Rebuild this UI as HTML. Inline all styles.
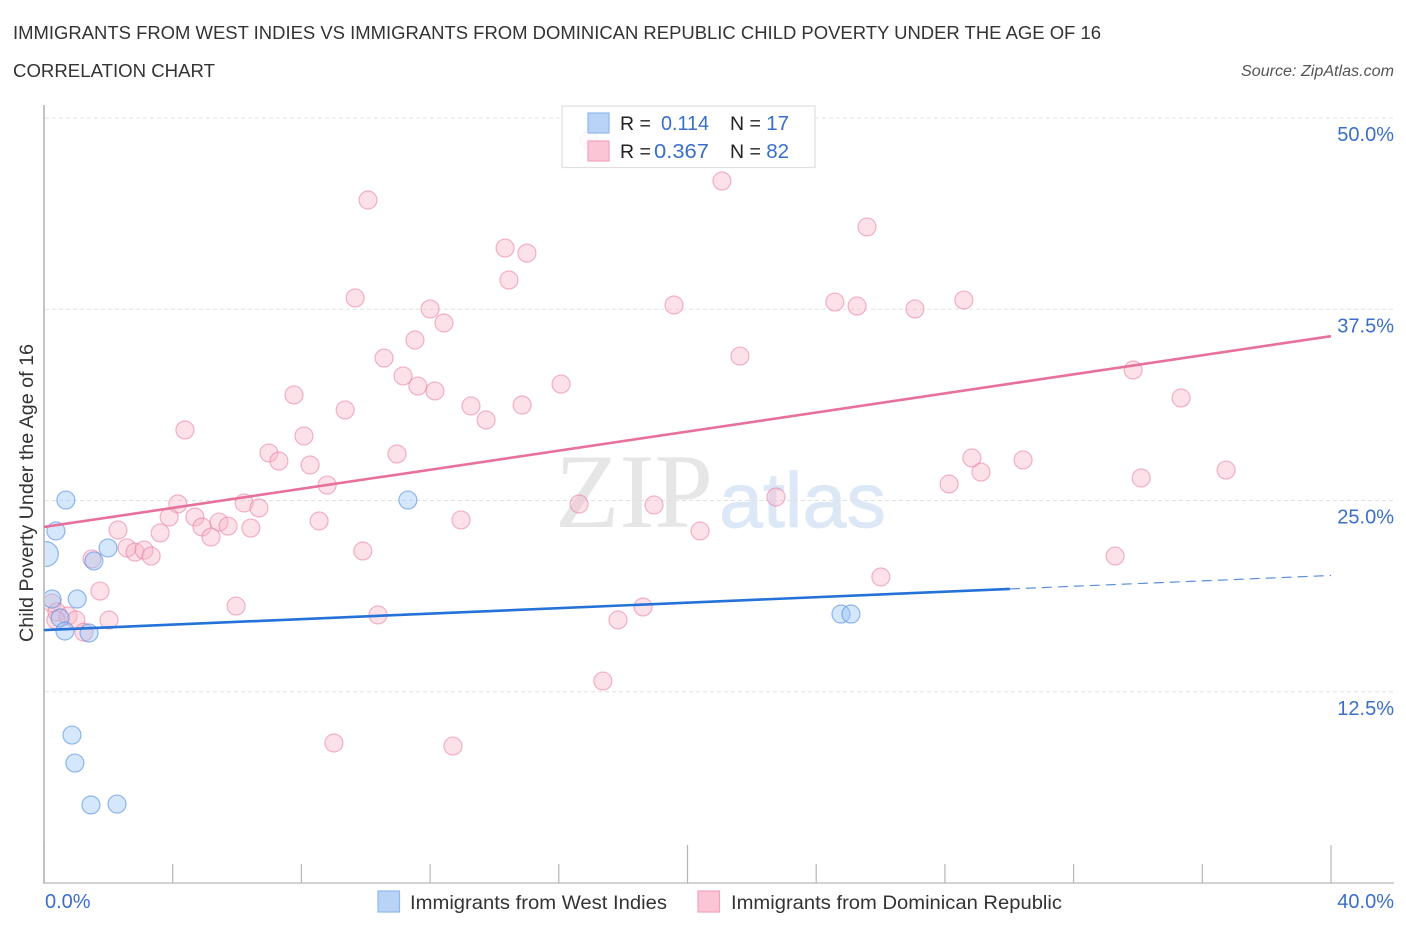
<!DOCTYPE html>
<html lang="en">
<head>
<meta charset="utf-8">
<title>Immigrants from West Indies vs Immigrants from Dominican Republic Child Poverty Correlation Chart</title>
<style>
html,body{margin:0;padding:0;background:#fff;width:1406px;height:930px;overflow:hidden}
svg{display:block}
text{font-family:"Liberation Sans",sans-serif}
</style>
</head>
<body>
<svg id="chart" xmlns="http://www.w3.org/2000/svg" width="1406" height="930" viewBox="0 0 1406 930">
  <defs>
    <clipPath id="plot-clip"><rect x="45" y="100" width="1349" height="783"/></clipPath>
  </defs>
  <text x="13" y="39" font-size="18.5" fill="#333" textLength="1088" lengthAdjust="spacingAndGlyphs">IMMIGRANTS FROM WEST INDIES VS IMMIGRANTS FROM DOMINICAN REPUBLIC CHILD POVERTY UNDER THE AGE OF 16</text>
  <text x="13" y="77" font-size="18.5" fill="#333" textLength="202" lengthAdjust="spacingAndGlyphs">CORRELATION CHART</text>
  <text x="1241" y="76" font-size="15.5" font-style="italic" fill="#555" textLength="153" lengthAdjust="spacingAndGlyphs">Source: ZipAtlas.com</text>
  <g>
    <text x="555" y="527" font-size="106" fill="#e6e6e6" textLength="158" lengthAdjust="spacingAndGlyphs" style="font-family:'Liberation Serif',serif">ZIP</text>
    <text x="719" y="527" font-size="78" fill="#dde8f7" stroke="#dde8f7" stroke-width="0.8" textLength="167" lengthAdjust="spacingAndGlyphs">atlas</text>
  </g>
  <g id="grid"></g>
  <g id="axes"></g>
  <g id="marks" clip-path="url(#plot-clip)"></g>
  <g id="trends"></g>
  <text transform="translate(33,642) rotate(-90)" font-size="19" fill="#333" textLength="298" lengthAdjust="spacingAndGlyphs">Child Poverty Under the Age of 16</text>
  <g>
    <rect x="562" y="106" width="253" height="61.5" fill="#fff" fill-opacity="0.85" stroke="#e0e0e0" stroke-width="1.2"/>
    <rect x="588" y="113" width="21" height="20" fill="#b9d3f7" stroke="#8fb8ee" stroke-width="1.2"/>
    <rect x="588" y="141" width="21" height="20" fill="#fcc5d6" stroke="#f3a3bd" stroke-width="1.2"/>
    <text x="620" y="130" font-size="19.5" fill="#222">R =</text>
    <text x="661" y="130" font-size="20.5" fill="#3a6fc9" textLength="48" lengthAdjust="spacingAndGlyphs">0.114</text>
    <text x="730" y="130" font-size="19.5" fill="#222">N =</text>
    <text x="789" y="130" font-size="20.5" fill="#3a6fc9" text-anchor="end">17</text>
    <text x="620" y="158" font-size="19.5" fill="#222">R =</text>
    <text x="654" y="158" font-size="20.5" fill="#3a6fc9" textLength="55" lengthAdjust="spacingAndGlyphs">0.367</text>
    <text x="730" y="158" font-size="19.5" fill="#222">N =</text>
    <text x="789" y="158" font-size="20.5" fill="#3a6fc9" text-anchor="end">82</text>
  </g>
  <g>
    <rect x="378" y="891" width="21.5" height="21" fill="#b9d3f7" stroke="#8fb8ee" stroke-width="1.2"/>
    <text x="410" y="909" font-size="19.5" fill="#333" textLength="257" lengthAdjust="spacingAndGlyphs">Immigrants from West Indies</text>
    <rect x="698" y="891" width="21.5" height="21" fill="#fcc5d6" stroke="#f3a3bd" stroke-width="1.2"/>
    <text x="731" y="909" font-size="19.5" fill="#333" textLength="331" lengthAdjust="spacingAndGlyphs">Immigrants from Dominican Republic</text>
  </g>
</svg>
<script>
const yTickValues = [50, 37.5, 25, 12.5];
const yTickLabels = ['50.0%', '37.5%', '25.0%', '12.5%'];
const xTickValues = [0, 4, 8, 12, 16, 20, 24, 28, 32, 36, 40];
const xMajorTicks = [0, 20, 40];
const xEndLabels = ['0.0%', '40.0%'];

const westIndiesX = [0.68,0.37,0.06,0.25,1.03,0.50,0.65,1.40,1.55,1.99,0.87,0.96,1.46,2.27,11.31,24.77,25.08];
const westIndiesY = [25.03,23.01,21.50,18.56,18.56,17.32,16.47,16.34,21.05,21.90,9.67,7.84,5.10,5.16,25.03,17.58,17.58];
const westIndiesWeight = [1,1,1.9,1,1,1,1,1,1,1,1,1,1,1,1,1,1];

const dominicanX = [10.07,21.07,25.58,14.33,15.01,14.45,9.67,12.00,12.43,11.53,10.57,11.16,11.62,12.15,7.77,9.36,13.27,13.74,14.86,16.07,4.38,8.08,6.99,7.30,8.27,10.97,8.80,4.16,6.22,6.68,3.89,4.69,5.44,4.91,5.72,5.19,6.43,8.55,3.61,2.30,2.58,2.83,3.11,3.33,1.49,9.91,12.96,16.63,18.96,20.39,22.75,19.58,21.63,24.58,25.27,27.07,28.59,33.85,35.34,28.84,29.12,28.13,30.43,34.10,36.74,33.29,26.01,1.74,5.97,10.38,18.62,17.84,17.37,9.01,12.71,2.02,0.25,0.40,0.75,0.99,0.37,1.24];
const dominicanY = [44.64,45.88,42.88,41.50,41.17,39.41,38.24,37.52,36.60,35.49,34.31,33.14,32.48,32.16,31.90,30.92,31.18,30.26,31.24,32.61,29.61,29.22,28.11,27.58,27.32,28.04,26.01,24.77,24.84,24.51,23.92,23.92,23.59,23.27,23.33,22.61,23.20,23.66,22.88,23.07,21.90,21.63,21.76,21.37,21.18,21.70,23.73,24.77,24.71,23.01,25.23,37.78,34.44,37.97,37.71,37.52,38.10,33.53,31.70,27.78,26.86,26.08,27.65,26.47,26.99,21.37,20.00,19.08,18.10,17.52,18.04,17.19,13.20,9.15,8.95,17.19,18.30,17.71,17.46,17.19,17.19,16.39];
const dominicanHiddenX = [16.94];
const dominicanHiddenY = [48.56];

const westTrendX = [0, 30.02];
const westTrendY = [16.53, 19.22];
const westTrendDashX = [30.02, 40];
const westTrendDashY = [19.22, 20.10];
const dominicanTrendX = [0, 40];
const dominicanTrendY = [23.27, 35.74];

const NS = 'http://www.w3.org/2000/svg';
function sx(v) { return 44 + v * (1331 - 44) / 40; }
function sy(v) { return 883 - v * (883 - 118) / 50; }
function make(tag, attrs, parent, txt) {
  const el = document.createElementNS(NS, tag);
  for (const k in attrs) el.setAttribute(k, attrs[k]);
  if (txt !== undefined) el.textContent = txt;
  parent.appendChild(el);
  return el;
}
const gridG = document.getElementById('grid');
const axesG = document.getElementById('axes');
const marksG = document.getElementById('marks');
const trendsG = document.getElementById('trends');

yTickValues.forEach(function (v, i) {
  const line = make('line', {x1: 45, x2: 1394, y1: sy(v), y2: sy(v), stroke: '#e0e0e0', 'stroke-width': 1, 'stroke-dasharray': '4 3'}, gridG);
  
  
  const label = make('text', {x: 1394, y: sy(v) + 23, 'font-size': 20, fill: '#3a6fc9', 'text-anchor': 'end'}, axesG, yTickLabels[i]);
  
  
});

const yAxis = make('line', {x1: 44, x2: 44, y1: 105, y2: 884, stroke: '#b5b5b5', 'stroke-width': 1.6}, axesG);


const xAxis = make('line', {x1: 44, x2: 1394, y1: 883, y2: 883, stroke: '#c4c4c4', 'stroke-width': 1.6}, axesG);



xTickValues.forEach(function (v) {
  const top = xMajorTicks.indexOf(v) >= 0 ? 845 : 864;
  const tick = make('line', {x1: sx(v), x2: sx(v), y1: top, y2: 883, stroke: '#b5b5b5', 'stroke-width': 1.2}, axesG);
  
  
});

const xLabelStart = make('text', {x: 45, y: 908, 'font-size': 20, fill: '#3a6fc9'}, axesG, xEndLabels[0]);


const xLabelEnd = make('text', {x: 1394, y: 908, 'font-size': 20, fill: '#3a6fc9', 'text-anchor': 'end'}, axesG, xEndLabels[1]);



dominicanHiddenX.forEach(function (v, i) {
  const dot = make('circle', {cx: sx(v), cy: sy(dominicanHiddenY[i]), r: 9, fill: 'rgba(248,180,200,.4)', stroke: 'rgba(232,120,160,.55)', 'stroke-width': 1.2}, marksG);
  
  
});
dominicanX.forEach(function (v, i) {
  const dot = make('circle', {cx: sx(v), cy: sy(dominicanY[i]), r: 9, fill: 'rgba(248,180,200,.4)', stroke: 'rgba(232,120,160,.55)', 'stroke-width': 1.2}, marksG);
  
  
});
westIndiesX.forEach(function (v, i) {
  const dot = make('circle', {cx: sx(v), cy: sy(westIndiesY[i]), r: 9 * Math.sqrt(westIndiesWeight[i]), fill: 'rgba(150,195,245,.4)', stroke: 'rgba(80,140,225,.6)', 'stroke-width': 1.2}, marksG);
  
  
});

const trendPink = make('line', {x1: sx(dominicanTrendX[0]), y1: sy(dominicanTrendY[0]), x2: sx(dominicanTrendX[1]), y2: sy(dominicanTrendY[1]), stroke: '#e8709c', 'stroke-width': 2.6}, trendsG);


const trendBlue = make('line', {x1: sx(westTrendX[0]), y1: sy(westTrendY[0]), x2: sx(westTrendX[1]), y2: sy(westTrendY[1]), stroke: '#2472d8', 'stroke-width': 2.6}, trendsG);


const trendDash = make('line', {x1: sx(westTrendDashX[0]), y1: sy(westTrendDashY[0]), x2: sx(westTrendDashX[1]), y2: sy(westTrendDashY[1]), stroke: '#5b8fd6', 'stroke-width': 1.2, 'stroke-dasharray': '10 6'}, trendsG);


</script>
</body>
</html>
